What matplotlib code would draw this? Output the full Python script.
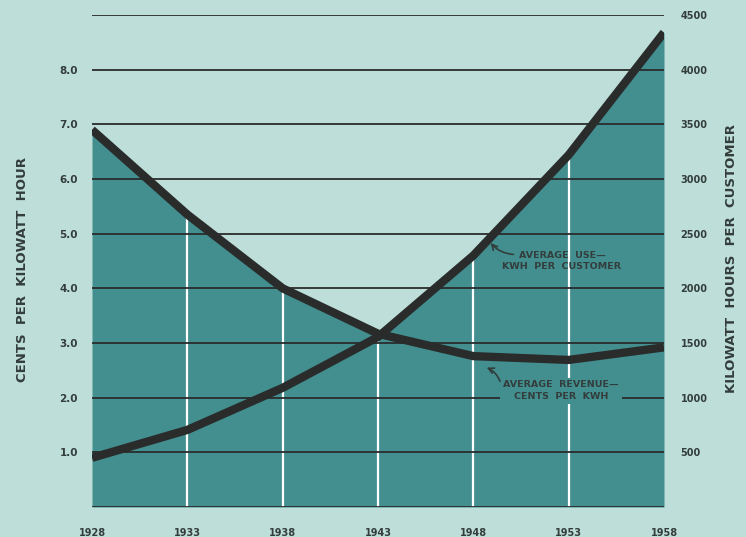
import numpy as np
import matplotlib.pyplot as plt

# kwh figures and revenue per kwh, 1928-1958
years = [1928, 1933, 1938, 1943, 1948, 1953, 1958]
revenue_cents = [6.9, 5.35, 4.0, 3.17, 2.76, 2.69, 2.92]
use_kwh = [450, 705, 1090, 1555, 2300, 3220, 4340]

left_ticks = [1.0, 2.0, 3.0, 4.0, 5.0, 6.0, 7.0, 8.0]
right_ticks = [500, 1000, 1500, 2000, 2500, 3000, 3500, 4000, 4500]

bg = '#bedfd9'
fill_col = '#438f90'
ink = '#2a2c2c'
txt = '#333d3c'

fig = plt.figure(figsize=(7.46, 5.37), dpi=100, facecolor=bg)
ax = fig.add_axes([92 / 746, 30 / 537, 572 / 746, 492 / 537])
ax.set_facecolor(bg)
ax.set_xlim(1928, 1958)
ax.set_ylim(0, 9.0)

# both series share the same grid: 500 kwh == 1 cent
use_scaled = np.array(use_kwh) / 500.0
xs = np.linspace(1928, 1958, 600)
top = np.maximum(np.interp(xs, years, revenue_cents), np.interp(xs, years, use_scaled))
ax.fill_between(xs, 0, top, color=fill_col, lw=0, zorder=1)

# white year dividers inside the shaded area
for yr in years[1:-1]:
    h = max(np.interp(yr, years, revenue_cents), np.interp(yr, years, use_scaled))
    ax.plot([yr, yr], [0, h], color='white', lw=1.6, zorder=2)

for v in [0] + left_ticks + [9.0]:
    ax.axhline(v, color=ink, lw=1.3, zorder=3)

ax.plot(years, revenue_cents, color=ink, lw=6.0, solid_capstyle='butt', zorder=4)
ax.plot(years, use_scaled, color=ink, lw=6.0, solid_capstyle='butt', zorder=4)

for s in ax.spines.values():
    s.set_visible(False)

ax.set_xticks(years)
ax.set_xticklabels([str(y) for y in years], fontsize=7, fontweight='bold', color=txt)
ax.set_yticks(left_ticks)
ax.set_yticklabels(['%.1f' % v for v in left_ticks], fontsize=7.5, fontweight='bold', color=txt)
ax.tick_params(axis='x', length=0, pad=15)
ax.tick_params(axis='y', length=0, pad=10)

ax2 = ax.twinx()
ax2.set_ylim(0, 4500)
ax2.set_yticks(right_ticks)
ax2.set_yticklabels([str(v) for v in right_ticks], fontsize=7, fontweight='bold', color=txt)
ax2.tick_params(axis='y', length=0, pad=12)
for s in ax2.spines.values():
    s.set_visible(False)

fig.text(0.0295, 0.499, 'CENTS  PER  KILOWATT  HOUR', rotation=90, ha='center', va='center',
         fontsize=9.5, fontweight='bold', color=txt)
fig.text(0.981, 0.518, 'KILOWATT  HOURS  PER  CUSTOMER', rotation=90, ha='center', va='center',
         fontsize=9.5, fontweight='bold', color=txt)

# curve labels with short curved pointers
ax.text(1952.65, 4.5, 'AVERAGE  USE\u2014\nKWH  PER  CUSTOMER', ha='center', va='center',
        fontsize=6.8, fontweight='bold', color=txt, linespacing=1.35, zorder=5)
ax.annotate('', xy=(1948.9, 4.83), xytext=(1950.1, 4.62), zorder=5,
            arrowprops=dict(arrowstyle='->', color=txt, lw=1.2,
                            connectionstyle='arc3,rad=-0.2', shrinkA=0, shrinkB=0))

ax.text(1952.6, 2.13, 'AVERAGE  REVENUE\u2014\nCENTS  PER  KWH', ha='center', va='center',
        fontsize=6.8, fontweight='bold', color=txt, linespacing=1.35, zorder=5,
        bbox=dict(boxstyle='square,pad=0.3', fc=fill_col, ec='none'))
ax.annotate('', xy=(1948.7, 2.55), xytext=(1949.4, 2.3), zorder=6,
            arrowprops=dict(arrowstyle='->', color=txt, lw=1.2,
                            connectionstyle='arc3,rad=0.2', shrinkA=0, shrinkB=0))

fig.savefig('out.png', dpi=100, facecolor=bg)
